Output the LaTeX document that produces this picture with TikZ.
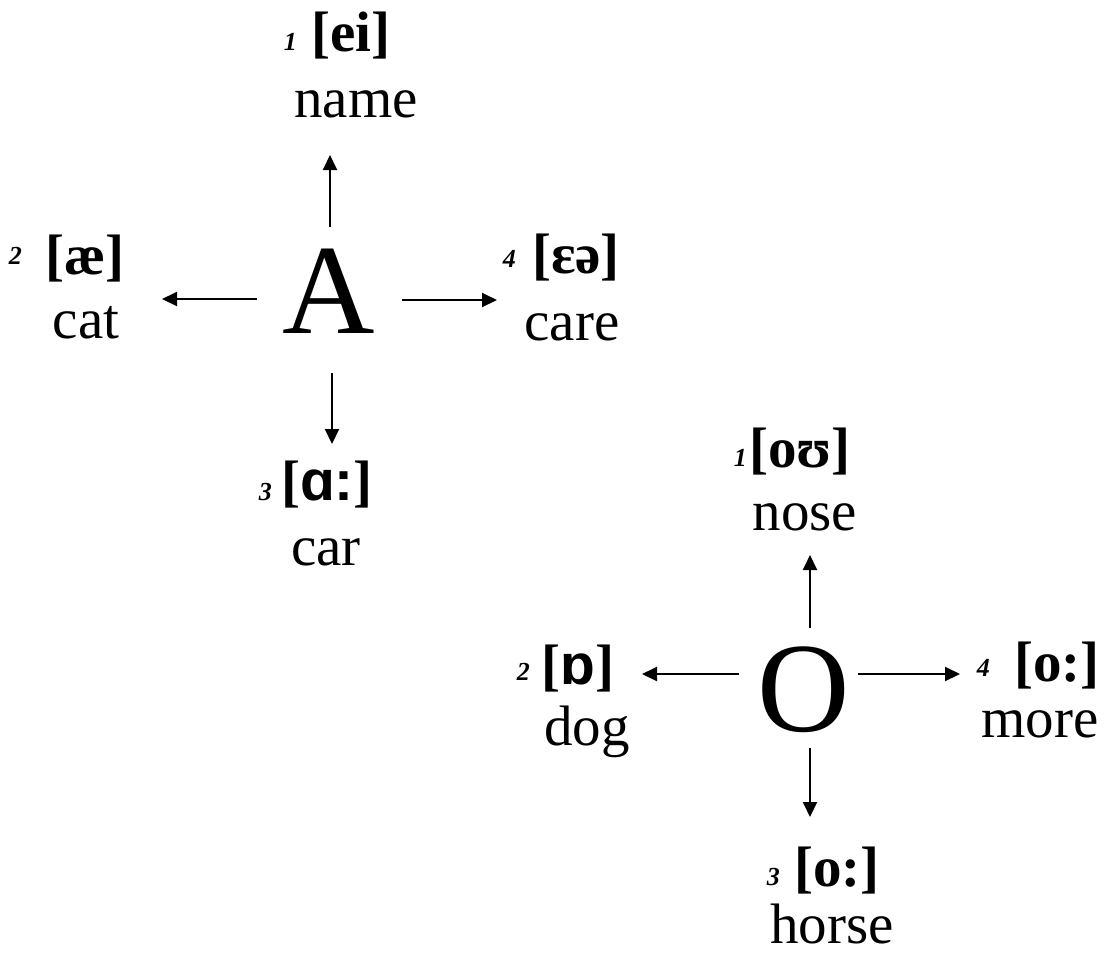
\documentclass[tikz,border=0pt]{standalone}
\usepackage{fontspec}
\setmainfont{Liberation Serif}[
  BoldFont={Liberation Serif Bold},
  ItalicFont={Liberation Serif Italic},
  BoldItalicFont={Liberation Serif Bold Italic}]
\newfontfamily\ipasans{Liberation Sans}
\usetikzlibrary{arrows.meta}

\tikzset{
  letter/.style={font=\fontsize{128}{130}\selectfont,inner sep=0pt,anchor=base},
  word/.style={font=\fontsize{57}{60}\selectfont,inner sep=0pt,anchor=base},
  ipa/.style={font=\fontsize{57}{60}\selectfont\bfseries,inner sep=0pt,anchor=base},
  num/.style={font=\fontsize{26}{28}\selectfont\bfseries\itshape,inner sep=0pt,anchor=base east},
  arr/.style={-{Triangle[length=15pt,width=14pt]},line width=2pt}
}

\begin{document}
\begin{tikzpicture}[x=1pt,y=-1pt]
\useasboundingbox (0,0) rectangle (1111,954);

\node[letter] (A) at (329,333) {A};
\node[num] (A1n) at (297,50) {1};
\node[ipa] (A1i) at (351,51) {[ei]};
\node[word] (name) at (356,117) {name};
\node[num] (A2n) at (22,264) {2};
\node[ipa] (A2i) at (85,274) {[æ]};
\node[word] (cat) at (86,338) {cat};
\node[num] (A4n) at (516,267) {4};
\node[ipa] (A4i) at (576,273) {[ɛə]};
\node[word] (care) at (572,340) {care};
\node[num] (A3n) at (272,500) {3};
\node[ipa] (A3i) at (327,500) {[{\ipasans ɑ:}]};
\node[word] (car) at (326,565) {car};
\coordinate (A-up) at (330,155);
\coordinate (A-down) at (332,444);
\coordinate (A-left) at (162,299);
\coordinate (A-right) at (497,300);
\draw[arr,shorten <=21pt] (A.north -| A-up) -- (A-up);
\draw[arr,shorten <=40pt] (A.south -| A-down) -- (A-down);
\draw[arr,shorten <=26pt] (A.west |- A-left) -- (A-left);
\draw[arr,shorten <=27pt] (A.east |- A-right) -- (A-right);

\node[letter] (O) at (804,731) {O};
\node[num] (O1n) at (747,466) {1};
\node[ipa] (O1i) at (800,467) {[oʊ]};
\node[word] (nose) at (805,530) {nose};
\node[num] (O2n) at (530,680) {2};
\node[ipa] (O2i) at (578,684) {[{\ipasans ɒ}]};
\node[word] (dog) at (587,745) {dog};
\node[num] (O4n) at (990,676) {4};
\node[ipa] (O4i) at (1057,681) {[o:]};
\node[word] (more) at (1040,737) {more};
\node[num] (O3n) at (780,885) {3};
\node[ipa] (O3i) at (837,886) {[o:]};
\node[word] (horse) at (832,943) {horse};
\coordinate (O-up) at (810,555);
\coordinate (O-down) at (810,817);
\coordinate (O-left) at (642,674);
\coordinate (O-right) at (960,674);
\draw[arr,shorten <=18pt] (O.north -| O-up) -- (O-up);
\draw[arr,shorten <=16pt] (O.south -| O-down) -- (O-down);
\draw[arr,shorten <=19pt] (O.west |- O-left) -- (O-left);
\draw[arr,shorten <=8pt] (O.east |- O-right) -- (O-right);
\end{tikzpicture}
\end{document}
